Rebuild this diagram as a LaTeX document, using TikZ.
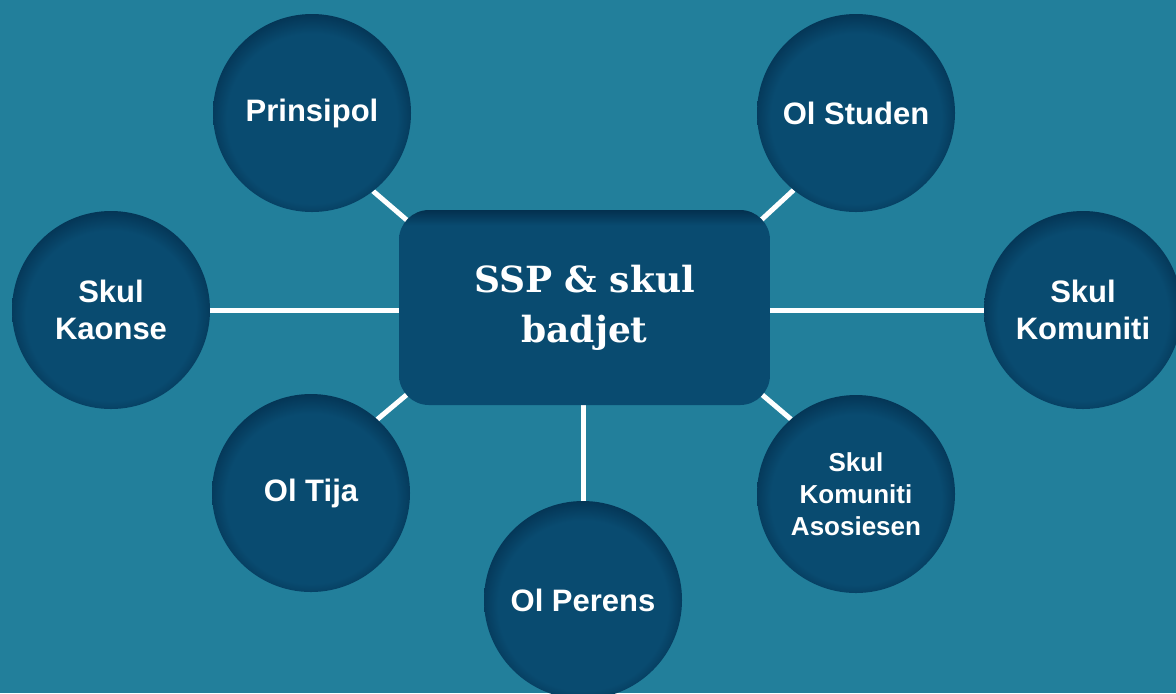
\documentclass[tikz,border=0pt]{standalone}
\usepackage{fontspec}
\setmainfont{Liberation Sans}
\newfontfamily\slabfont{DejaVu Serif}
\usetikzlibrary{backgrounds}
\definecolor{bgteal}{HTML}{227F9B}
\definecolor{blobfill}{HTML}{094B70}
\definecolor{blobedge}{HTML}{03304F}
\pgfdeclareradialshading{blobshade}{\pgfpoint{0bp}{-2.5bp}}{color(0bp)=(blobfill); color(21.5bp)=(blobfill); color(27.5bp)=(blobedge); color(50bp)=(blobedge)}
\pgfdeclareverticalshading{boxshade}{100bp}{color(0bp)=(blobfill); color(71bp)=(blobfill); color(75bp)=(blobedge); color(100bp)=(blobedge)}
\tikzset{
	blob/.style = {circle, minimum size=99pt, inner sep=0pt, outer sep=0pt,
	  shade, shading=blobshade, text=white, align=center,
	  font=\bfseries\fontsize{15.5}{18.3}\selectfont},
	hub/.style = {rectangle, rounded corners=15pt, minimum width=185.5pt,
	  minimum height=97.5pt, outer sep=0pt, shade, shading=boxshade,
	  text=white, align=center, font=\slabfont\bfseries\fontsize{18}{25}\selectfont},
	link/.style = {white, line width=2.5pt}
}
\begin{document}
\begin{tikzpicture}[x=0.5pt, y=-0.5pt]
\useasboundingbox (0,0) rectangle (1176,693);

% NODES

% centre
\node (ssp) [hub] at (584.5,307.5) {SSP \& skul\\badjet};

% top row
\node (prinsipol) [blob] at (312,113) {Prinsipol};
\node (olstuden) [blob] at (856,113) {Ol Studen};

% middle row
\node (skulkaonse) [blob] at (111,310) {Skul\\Kaonse};
\node (skulkomuniti) [blob] at (1083,310) {Skul\\Komuniti};

% bottom row
\node (oltija) [blob] at (311,493) {Ol Tija};
\node (asosiesen) [blob, font=\bfseries\fontsize{13}{16}\selectfont] at (856,494) {Skul\\Komuniti\\Asosiesen};
\node (olperens) [blob] at (583,600) {Ol Perens};

%CONNECTIONS
\begin{scope}[on background layer]
\fill [bgteal] (0,0) rectangle (1176,693);
\draw [link] (skulkaonse.east) -- (skulkaonse.east -| ssp.west);
\draw [link] (skulkomuniti.west) -- (skulkomuniti.west -| ssp.east);
\draw [link] (olperens.north) -- (olperens.north |- ssp.south);
\draw [link] (prinsipol.-52) -- ([shift={(12pt,-12pt)}]ssp.north west);
\draw [link] (olstuden.-129) -- ([shift={(-12pt,-12pt)}]ssp.north east);
\draw [link] (oltija.48) -- ([shift={(12pt,12pt)}]ssp.south west);
\draw [link] (asosiesen.131) -- ([shift={(-12pt,12pt)}]ssp.south east);
\end{scope}

\end{tikzpicture}
\end{document}
